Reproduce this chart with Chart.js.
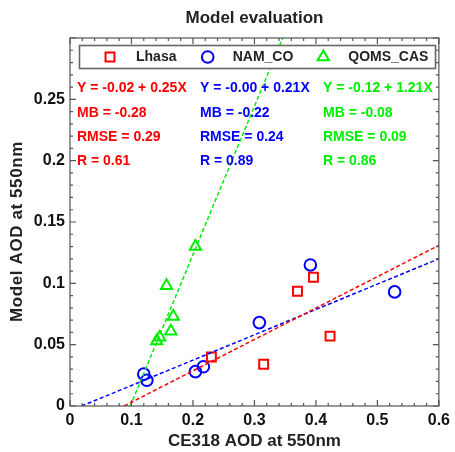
<!DOCTYPE html>
<html>
<head>
<meta charset="utf-8">
<script src="https://cdn.jsdelivr.net/npm/chart.js@4/dist/chart.umd.min.js"></script>
<style>
  html, body { margin: 0; padding: 0; background: #fff; }
  #wrap { width: 455px; height: 452px; }
</style>
</head>
<body>
<div id="wrap"><canvas id="aod-chart"></canvas></div>
<script>
const siteNames = ['Lhasa', 'NAM_CO', 'QOMS_CAS']
const siteColors = ['#ff0000', '#0000ff', '#00ee00']
const siteMarkers = ['rect', 'circle', 'triangle']

// [CE318, model] pairs
const lhasa = [[0.230, 0.040], [0.315, 0.034], [0.370, 0.0935], [0.396, 0.105], [0.423, 0.057]]
const namCo = [[0.120, 0.026], [0.125, 0.021], [0.204, 0.028], [0.217, 0.032], [0.308, 0.068], [0.391, 0.115], [0.528, 0.093]]
const qomsCas = [[0.141, 0.053], [0.146, 0.056], [0.164, 0.061], [0.168, 0.073], [0.157, 0.098], [0.204, 0.130]]

// end points of the dashed fit lines
const lhasaFit = [[0.088, 0], [0.6, 0.131]]
const namCoFit = [[0.019, 0], [0.6, 0.120]]
const qomsCasFit = [[0.098, 0], [0.346, 0.3]]

const statLines = [
  ['Y = -0.02 + 0.25X', 'MB = -0.28', 'RMSE = 0.29', 'R = 0.61'],
  ['Y = -0.00 + 0.21X', 'MB = -0.22', 'RMSE = 0.24', 'R = 0.89'],
  ['Y = -0.12 + 1.21X', 'MB = -0.08', 'RMSE = 0.09', 'R = 0.86']
]

const xTickLabels = ['0', '0.1', '0.2', '0.3', '0.4', '0.5', '0.6']
const yTickLabels = ['0', '0.05', '0.1', '0.15', '0.2', '0.25', '']

const FONT = "'Liberation Sans', Arial, sans-serif"
Chart.defaults.font.family = FONT

const markerSize = { rect: 6.3, circle: 5.8, triangle: 6.5 }

function toXY(pairs) {
  return pairs.map(p => ({ x: p[0], y: p[1] }))
}

function pointSet(i, pairs) {
  return {
    label: siteNames[i],
    data: toXY(pairs),
    pointStyle: siteMarkers[i],
    pointRadius: markerSize[siteMarkers[i]],
    pointBorderWidth: 2,
    borderColor: siteColors[i],
    backgroundColor: 'rgba(0,0,0,0)',
    showLine: false
  }
}

function fitSet(i, pairs) {
  return {
    label: siteNames[i] + ' fit',
    data: toXY(pairs),
    showLine: true,
    pointRadius: 0,
    borderColor: siteColors[i],
    borderWidth: 1.5,
    borderDash: [4, 2.5],
    fill: false
  }
}

function marker(ctx, style, x, y, r) {
  ctx.beginPath()
  if (style === 'circle') {
    ctx.arc(x, y, r, 0, Math.PI * 2)
  } else if (style === 'rect') {
    const s = Math.SQRT1_2 * r
    ctx.rect(x - s, y - s, 2 * s, 2 * s)
  } else {
    for (let k = 0; k < 3; k++) {
      const a = k * 2 * Math.PI / 3
      const px = x + Math.sin(a) * r
      const py = y - Math.cos(a) * r
      if (k === 0) ctx.moveTo(px, py)
      else ctx.lineTo(px, py)
    }
    ctx.closePath()
  }
  ctx.stroke()
}

// frame, inward ticks, legend box, stats text, y title
const decorations = {
  id: 'decorations',
  afterDatasetsDraw(chart) {
    const ctx = chart.ctx
    const ca = chart.chartArea
    const xs = chart.scales.x
    const ys = chart.scales.y
    ctx.save()
    ctx.strokeStyle = '#555'
    ctx.lineWidth = 1.2
    ctx.strokeRect(ca.left, ca.top, ca.right - ca.left, ca.bottom - ca.top)

    ctx.beginPath()
    for (let i = 0; i <= 30; i++) {
      const px = xs.getPixelForValue(i * 0.02)
      const len = i % 5 === 0 ? 6 : 3
      ctx.moveTo(px, ca.bottom); ctx.lineTo(px, ca.bottom - len)
      ctx.moveTo(px, ca.top); ctx.lineTo(px, ca.top + len)
    }
    for (let i = 0; i <= 30; i++) {
      const py = ys.getPixelForValue(i * 0.01)
      const len = i % 5 === 0 ? 6 : 3
      ctx.moveTo(ca.left, py); ctx.lineTo(ca.left + len, py)
      ctx.moveTo(ca.right, py); ctx.lineTo(ca.right - len, py)
    }
    ctx.stroke()

    // legend
    const lx = ca.left + 9.5, ly = ca.top + 7.5
    ctx.fillStyle = '#fff'
    ctx.fillRect(lx, ly, 356, 23)
    ctx.strokeStyle = '#666'
    ctx.lineWidth = 1.6
    ctx.strokeRect(lx, ly, 356, 23)
    const legMarkX = [40, 137.7, 253.3]
    const legTextX = [66, 162.7, 278.3]
    ctx.font = 'bold 14px ' + FONT
    ctx.textBaseline = 'middle'
    ctx.textAlign = 'left'
    for (let i = 0; i < 3; i++) {
      ctx.strokeStyle = siteColors[i]
      ctx.lineWidth = 2
      marker(ctx, siteMarkers[i], ca.left + legMarkX[i], ly + 11.5, markerSize[siteMarkers[i]])
      ctx.fillStyle = '#222'
      ctx.fillText(siteNames[i], ca.left + legTextX[i], ly + 12)
    }

    // regression stats
    const colX = [7, 130, 253]
    for (let i = 0; i < 3; i++) {
      ctx.fillStyle = siteColors[i]
      statLines[i].forEach((t, j) => {
        ctx.fillText(t, ca.left + colX[i], ca.top + 50.5 + j * 24.2)
      })
    }

    // y axis title
    ctx.translate(17, 231.5)
    ctx.rotate(-Math.PI / 2)
    ctx.font = 'bold 17px ' + FONT
    ctx.letterSpacing = '0.6px'
    ctx.textAlign = 'center'
    ctx.fillStyle = '#222'
    ctx.fillText('Model AOD at 550nm', 0, 0)
    ctx.restore()
  }
}

new Chart(document.getElementById('aod-chart'), {
  type: 'scatter',
  data: {
    datasets: [
      fitSet(0, lhasaFit),
      fitSet(1, namCoFit),
      fitSet(2, qomsCasFit),
      pointSet(0, lhasa),
      pointSet(1, namCo),
      pointSet(2, qomsCas)
    ]
  },
  options: {
    responsive: true,
    maintainAspectRatio: false,
    animation: false,
    layout: { padding: { top: 0, right: 15, bottom: 0, left: 0 } },
    plugins: {
      legend: { display: false },
      tooltip: { enabled: false },
      title: {
        display: true,
        fullSize: false,
        text: 'Model evaluation',
        color: '#222',
        font: { size: 17, weight: 'bold' },
        padding: { top: 8, bottom: 9.6 }
      }
    },
    scales: {
      x: {
        type: 'linear',
        min: 0,
        max: 0.6,
        grid: { display: false, drawTicks: false },
        border: { display: false },
        ticks: {
          stepSize: 0.1,
          autoSkip: false,
          maxRotation: 0,
          padding: 5,
          color: '#111',
          font: { size: 16, weight: 'bold' },
          callback: (v, i) => xTickLabels[i]
        },
        title: {
          display: true,
          text: 'CE318 AOD at 550nm',
          color: '#222',
          font: { size: 17, weight: 'bold' },
          padding: { top: 0, bottom: 0 }
        },
        afterFit: scale => { scale.height = 46 }
      },
      y: {
        type: 'linear',
        min: 0,
        max: 0.3,
        grid: { display: false, drawTicks: false },
        border: { display: false },
        ticks: {
          stepSize: 0.05,
          autoSkip: false,
          padding: 5,
          color: '#111',
          font: { size: 16, weight: 'bold' },
          callback: (v, i) => yTickLabels[i]
        },
        afterFit: scale => { scale.width = 70 }
      }
    }
  },
  plugins: [decorations]
})
</script>
</body>
</html>
